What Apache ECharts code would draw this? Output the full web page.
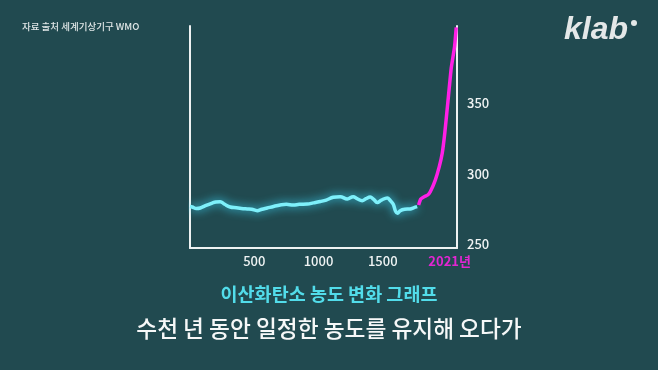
<!DOCTYPE html>
<html>
<head>
<meta charset="utf-8">
<script src="https://cdn.jsdelivr.net/npm/echarts@6/dist/echarts.min.js"></script>
<style>
html,body{margin:0;padding:0;background:#214a50;}
#c{width:658px;height:370px;}
</style>
</head>
<body>
<div id="c"></div>
<script>
// Pre-industrial CO2 (ppm) — year positions
var preYears  = [0,17,50,80,120,173,200,235,270,313,360,400,446,480,523,560,601,650,702,750,804,850,913,960,1014,1060,1115,1169,1224,1270,1300,1340,1370,1402,1430,1457,1490,1535,1560,1582,1600,1615,1636,1670,1714,1740,1768];
var preValues = [277,276.6,275.5,275.9,277.5,279.4,280.2,280.4,278.5,276.6,276,275.5,275.2,275,274,275,275.9,277,278,278.5,278,278.5,278.7,279.5,280.5,281.5,283.5,283.9,282.3,283.9,282.5,281.1,282.5,283.7,282,279.8,281.5,283,281,278.5,273.5,272.1,274,275,275.2,276,276.8];
// Industrial-era rise (magenta)
var modYears  = [1779,1796,1823,1850,1870,1909,1940,1963,1983,2006,2033,2059,2072];
var modValues = [278,282.3,283.9,285.1,287.4,295.7,305.2,314.7,329.1,350.1,375,390.3,404];
// Tick labels
var xTicks = [500,1000,1500,2021];
var yTicks = [250,300,350];
var endLabel = '2021년';

function pairs(xs, ys){ return xs.map(function(x,i){ return [x, ys[i]]; }); }

var chart = echarts.init(document.getElementById('c'), null, {renderer:'canvas'});
var labelFont = '"Noto Sans CJK KR", "Noto Sans", sans-serif';
chart.setOption({
  backgroundColor: '#214a50',
  animation: false,
  grid: {left:190, right:201, top:26, bottom:122, containLabel:false},
  xAxis: {
    type:'value', min:0, max:2078,
    axisLine:{show:true, onZero:false, lineStyle:{color:'#eef2f2', width:2}},
    axisTick:{show:false},
    splitLine:{show:false},
    axisLabel:{
      customValues: xTicks,
      margin: 7,
      color:'#f0f4f4', fontSize:13, fontWeight:500, fontFamily:labelFont,
      formatter:function(v){ return v===2021 ? '{m|'+endLabel+'}' : String(v); },
      rich:{ m:{color:'#e126d2', fontSize:13, fontWeight:'bold', fontFamily:labelFont} }
    }
  },
  yAxis: [{
    type:'value', min:247.5, max:405, position:'right',
    axisLine:{show:true, onZero:false, lineStyle:{color:'#eef2f2', width:2}},
    axisTick:{show:false},
    splitLine:{show:false},
    axisLabel:{customValues: yTicks, margin:10, color:'#f0f4f4', fontSize:13, fontWeight:500, fontFamily:labelFont}
  },{
    type:'value', min:247.5, max:405, position:'left',
    axisLine:{show:true, onZero:false, lineStyle:{color:'#eef2f2', width:2}},
    axisTick:{show:false}, splitLine:{show:false}, axisLabel:{show:false}
  }],
  series: [{
    type:'line', data: pairs(preYears, preValues), showSymbol:false, smooth:0.4,
    lineStyle:{color:'#7ef0fb', width:3.5, shadowBlur:10, shadowColor:'rgba(60,220,255,1)'}
  },{
    type:'line', data: pairs(modYears, modValues), showSymbol:false, smooth:0.15,
    lineStyle:{color:'#ff1fe6', width:3.5}
  }],
  graphic: [
    {type:'text', left:22, top:22, style:{text:'자료 출처 세계기상기구 WMO', fill:'#dfe6e6', font:'500 9.5px "Noto Sans CJK KR", sans-serif'}},
    {type:'text', left:564, top:14, style:{text:'klab', fill:'#e4e8e8', font:'italic 900 32px "Liberation Sans", Arial, sans-serif'}},
    {type:'circle', shape:{cx:634, cy:23, r:3}, style:{fill:'#e4e8e8'}},
    {type:'text', left:'center', top:285, style:{text:'이산화탄소 농도 변화 그래프', fill:'#52dcea', font:'bold 18.5px "Noto Sans CJK KR", sans-serif'}},
    {type:'text', left:'center', top:317, style:{text:'수천 년 동안 일정한 농도를 유지해 오다가', fill:'#f6f8f8', font:'500 22.7px "Noto Sans CJK KR", sans-serif'}}
  ]
});
</script>
</body>
</html>
